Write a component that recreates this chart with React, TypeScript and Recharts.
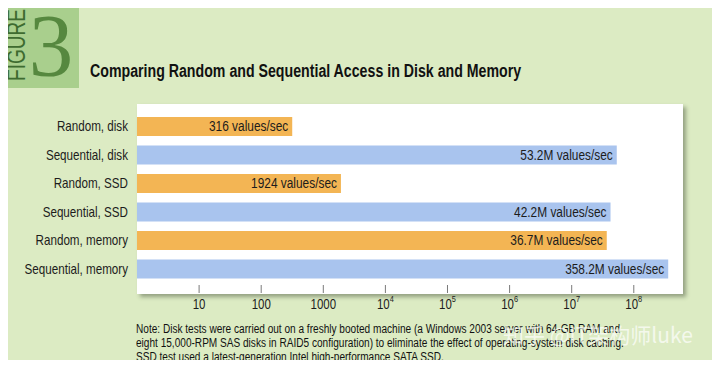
import React from "react";
import { BarChart, Bar, XAxis, YAxis, Cell, LabelList } from "recharts";

const categories = [
  "Random, disk",
  "Sequential, disk",
  "Random, SSD",
  "Sequential, SSD",
  "Random, memory",
  "Sequential, memory",
];
const values = [316, 53.2e6, 1924, 42.2e6, 36.7e6, 358.2e6];
const accessKind = ["random", "sequential", "random", "sequential", "random", "sequential"];
const xTicks = [10, 100, 1000, 1e4, 1e5, 1e6, 1e7, 1e8];

const noteLines = [
  "Note: Disk tests were carried out on a freshly booted machine (a Windows 2003 server with 64-GB RAM and",
  "eight 15,000-RPM SAS disks in RAID5 configuration) to eliminate the effect of operating-system disk caching.",
  "SSD test used a latest-generation Intel high-performance SATA SSD.",
];

const data = categories.map((name, i) => ({ name, value: values[i], kind: accessKind[i] }));

const COLORS = {
  bg: "#dcebc3",
  figBox: "#a9cf8d",
  figText: "#3e6b30",
  three: "#56883f",
  random: "#f3b554",
  sequential: "#a9c4ee",
  text: "#1c1c1c",
  tick: "#7a7a7a",
};

// Liberation Sans squeezed horizontally ~ Arial Narrow
const FONT = "'Liberation Sans', Arimo, sans-serif";
const SQUEEZE = 0.82;

function fmtRate(v: number): string {
  if (v >= 1e6) return `${(v / 1e6).toFixed(1)}M values/sec`;
  return `${v} values/sec`;
}

function NarrowText({ x, y, anchor, size, children }: any) {
  return (
    <text
      transform={`translate(${x},${y}) scale(${SQUEEZE},1)`}
      x={0}
      y={0}
      textAnchor={anchor}
      dominantBaseline="central"
      fontSize={size}
      fill={COLORS.text}
      fontFamily={FONT}
    >
      {children}
    </text>
  );
}

function PowerTick(props: any) {
  const { x, y, payload } = props;
  const v = payload.value as number;
  const exp = Math.round(Math.log10(v));
  return (
    <g>
      <line x1={x} x2={x} y1={y + 2} y2={y + 10} stroke={COLORS.tick} strokeWidth={1} />
      <NarrowText x={x} y={y + 21} anchor="middle" size={14}>
        {exp < 4 ? (
          String(v)
        ) : (
          <>
            <tspan>10</tspan>
            <tspan fontSize={9} dy={-5}>{exp}</tspan>
          </>
        )}
      </NarrowText>
    </g>
  );
}

function CategoryTick(props: any) {
  const { x, y, payload } = props;
  return (
    <NarrowText x={x} y={y} anchor="end" size={14.2}>
      {payload.value}
    </NarrowText>
  );
}

function RateLabel(props: any) {
  const { x, y, width, height, value } = props;
  return (
    <NarrowText x={x + width - 4} y={y + height / 2} anchor="end" size={14.5}>
      {fmtRate(value)}
    </NarrowText>
  );
}

export default function App() {
  return (
    <div
      style={{
        position: "relative",
        width: 720,
        height: 368,
        margin: -8,
        background: COLORS.bg,
        overflow: "hidden",
        fontFamily: FONT,
      }}
    >
      <div style={{ position: "absolute", left: 0, top: 0, width: 720, height: 2, background: "#f1f7e8" }} />

      {/* figure tag */}
      <svg width={90} height={92} style={{ position: "absolute", left: 0, top: 0 }}>
        <rect x={0} y={2} width={79} height={86} fill={COLORS.figBox} />
        <text
          transform="translate(25,45) rotate(-90)"
          textAnchor="middle"
          fontSize={25}
          fill={COLORS.figText}
          fontFamily={FONT}
          textLength={72}
          lengthAdjust="spacingAndGlyphs"
        >
          FIGURE
        </text>
        <text
          x={51}
          y={75}
          textAnchor="middle"
          fontSize={89}
          fill={COLORS.three}
          fontFamily="'Liberation Serif', 'DejaVu Serif', serif"
        >
          3
        </text>
      </svg>

      <div
        style={{
          position: "absolute",
          left: 90,
          top: 61,
          fontSize: 17.5,
          fontWeight: 700,
          color: "#111",
          whiteSpace: "nowrap",
          transform: "scaleX(0.81)",
          transformOrigin: "left center",
        }}
      >
        Comparing Random and Sequential Access in Disk and Memory
      </div>

      {/* white chart panel */}
      <div
        style={{
          position: "absolute",
          left: 137,
          top: 104,
          width: 546,
          height: 190,
          background: "#fff",
          boxShadow: "3px 3px 4px rgba(60,70,50,0.45)",
        }}
      />

      <div style={{ position: "absolute", left: 0, top: 0 }}>
        <BarChart
          width={720}
          height={368}
          data={data}
          layout="vertical"
          margin={{ top: 112, right: 37, bottom: 55, left: 0 }}
          barSize={19}
        >
          <XAxis
            type="number"
            scale="log"
            domain={[1, 6.2e8]}
            allowDataOverflow
            ticks={xTicks}
            interval={0}
            axisLine={false}
            tickLine={false}
            tickSize={0}
            tickMargin={0}
            height={30}
            tick={<PowerTick />}
          />
          <YAxis
            type="category"
            dataKey="name"
            width={137}
            axisLine={false}
            tickLine={false}
            tickSize={0}
            tickMargin={9}
            interval={0}
            tick={<CategoryTick />}
          />
          <Bar dataKey="value" isAnimationActive={false}>
            {data.map((d, i) => (
              <Cell key={i} fill={d.kind === "random" ? COLORS.random : COLORS.sequential} />
            ))}
            <LabelList dataKey="value" content={<RateLabel />} />
          </Bar>
        </BarChart>
      </div>

      {/* note */}
      <div
        style={{
          position: "absolute",
          left: 136,
          top: 322,
          fontSize: 12,
          lineHeight: "14px",
          color: "#111",
          whiteSpace: "nowrap",
          transform: "scaleX(0.84)",
          transformOrigin: "left top",
        }}
      >
        {noteLines.map((l, i) => (
          <div key={i}>{l}</div>
        ))}
      </div>

      {/* watermark */}
      <div
        style={{
          position: "absolute",
          left: 503,
          top: 319,
          fontSize: 21,
          color: "rgba(255,255,255,0.7)",
          fontFamily: "'Noto Sans CJK SC', sans-serif",
          whiteSpace: "nowrap",
        }}
      >
        知乎 @IT架构师luke
      </div>
    </div>
  );
}
